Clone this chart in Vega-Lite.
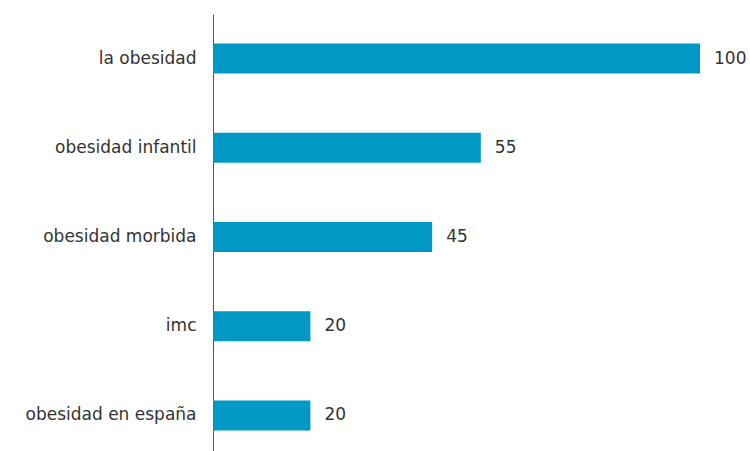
{
  "$schema": "https://vega.github.io/schema/vega-lite/v6.json",
  "width": 487,
  "height": 446,
  "autosize": {"type": "none"},
  "padding": {"left": 213, "top": 14, "right": 50, "bottom": 0},
  "background": "white",
  "data": {"values": [
    {"term": "la obesidad", "value": 100},
    {"term": "obesidad infantil", "value": 55},
    {"term": "obesidad morbida", "value": 45},
    {"term": "imc", "value": 20},
    {"term": "obesidad en españa", "value": 20}
  ]},
  "encoding": {
    "y": {"field": "term", "type": "nominal", "sort": null,
      "scale": {"paddingInner": 0, "paddingOuter": 0},
      "axis": {"title": null, "ticks": false, "grid": false, "domainColor": "#555555", "domainWidth": 1,
        "labelFont": "DejaVu Sans", "labelFontSize": 17, "labelColor": "#333333", "labelPadding": 17}},
    "x": {"field": "value", "type": "quantitative", "scale": {"domain": [0, 100], "nice": false}, "axis": null}
  },
  "layer": [
    {"mark": {"type": "bar", "color": "#0099c6", "size": 30}},
    {"mark": {"type": "text", "align": "left", "baseline": "middle", "dx": 14, "font": "DejaVu Sans", "fontSize": 17, "color": "#333333"},
     "encoding": {"text": {"field": "value", "type": "quantitative"}}}
  ],
  "config": {"view": {"stroke": null}}
}
